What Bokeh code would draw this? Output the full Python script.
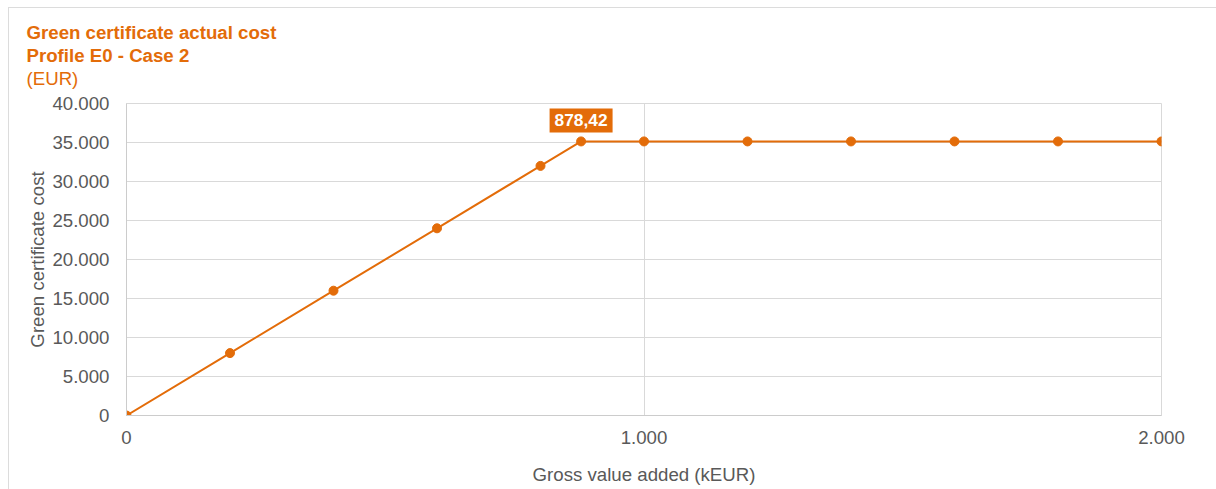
from bokeh.plotting import figure
from bokeh.models import (ColumnDataSource, FixedTicker, CustomJSTickFormatter, Label, Title)
from bokeh.embed import file_html
from bokeh.resources import INLINE

# ---- data ----
gross_value_added = [0, 200, 400, 600, 800, 878.42, 1000, 1200, 1400, 1600, 1800, 2000]
green_cert_cost = [0, 8000, 16000, 24000, 32000, 35136.8, 35136.8, 35136.8,
                   35136.8, 35136.8, 35136.8, 35136.8]
x_ticks = [0, 1000, 2000]
y_ticks = [0, 5000, 10000, 15000, 20000, 25000, 30000, 35000, 40000]
highlight_x = 878.42
highlight_y = 35136.8
highlight_text = "878,42"
title_lines = ["Green certificate actual cost", "Profile E0 - Case 2", "(EUR)"]

ORANGE = "#E36C09"
GRAY_TXT = "#595959"
GRID = "#d9d9d9"
FONT = "Liberation Sans"

src = ColumnDataSource(data=dict(x=gross_value_added, y=green_cert_cost))

p = figure(width=1216, height=489, output_backend="svg", toolbar_location=None,
           x_range=(0, 2000), y_range=(0, 40000),
           min_border_left=126, min_border_right=55, min_border_top=103,
           min_border_bottom=74)
p.outline_line_color = GRID
p.stylesheets = [""":host { position: relative; }
:host::after { content: ""; position: absolute; left: 8px; top: 7px;
  right: 0px; bottom: 0px; border-top: 1px solid #dcdcdc; border-left: 1px solid #dcdcdc;
  pointer-events: none; z-index: 100; }"""]

p.line("x", "y", source=src, line_color=ORANGE, line_width=2)
p.scatter("x", "y", source=src, size=9, fill_color=ORANGE, line_color=ORANGE)

fmt = CustomJSTickFormatter(code="""
return Math.round(tick).toString().replace(/\\B(?=(\\d{3})+(?!\\d))/g, ".");
""")

for ax in (p.xaxis[0], p.yaxis[0]):
    ax.formatter = fmt
    ax.major_tick_line_color = None
    ax.minor_tick_line_color = None
    ax.axis_line_color = "#cccccc"
    ax.major_label_text_font = FONT
    ax.major_label_text_font_size = "14pt"
    ax.major_label_text_color = GRAY_TXT
    ax.axis_label_text_font = FONT
    ax.axis_label_text_font_size = "14pt"
    ax.axis_label_text_color = GRAY_TXT
    ax.axis_label_text_font_style = "normal"

p.xaxis.ticker = FixedTicker(ticks=x_ticks)
p.yaxis.ticker = FixedTicker(ticks=y_ticks)
p.xaxis.axis_label = "Gross value added (kEUR)"
p.yaxis.axis_label = "Green certificate cost"
p.xaxis.major_label_standoff = 9
p.yaxis.major_label_standoff = 11
p.xaxis.axis_label_standoff = 17
p.yaxis.axis_label_standoff = 1

p.xgrid.grid_line_color = GRID
p.ygrid.grid_line_color = GRID

lab = Label(x=highlight_x, y=highlight_y, y_offset=21, text=highlight_text,
            text_align="center", text_baseline="middle",
            text_color="white", text_font=FONT, text_font_style="bold",
            text_font_size="13pt", background_fill_color=ORANGE, padding=(5, 6))
p.add_layout(lab)

# spacer between frame and the titles
p.add_layout(Title(text=" ", standoff=12, text_font_size="1px"), "above")

# titles: added from closest-to-frame outward
styles = ["bold", "bold", "normal"]
for t, st in reversed(list(zip(title_lines, styles))):
    p.add_layout(Title(text=t, align="left", offset=-100, standoff=0,
                       text_color=ORANGE, text_font=FONT, text_font_style=st,
                       text_font_size="14pt", text_line_height=1.0), "above")

open("out.html", "w").write(file_html(p, INLINE))
